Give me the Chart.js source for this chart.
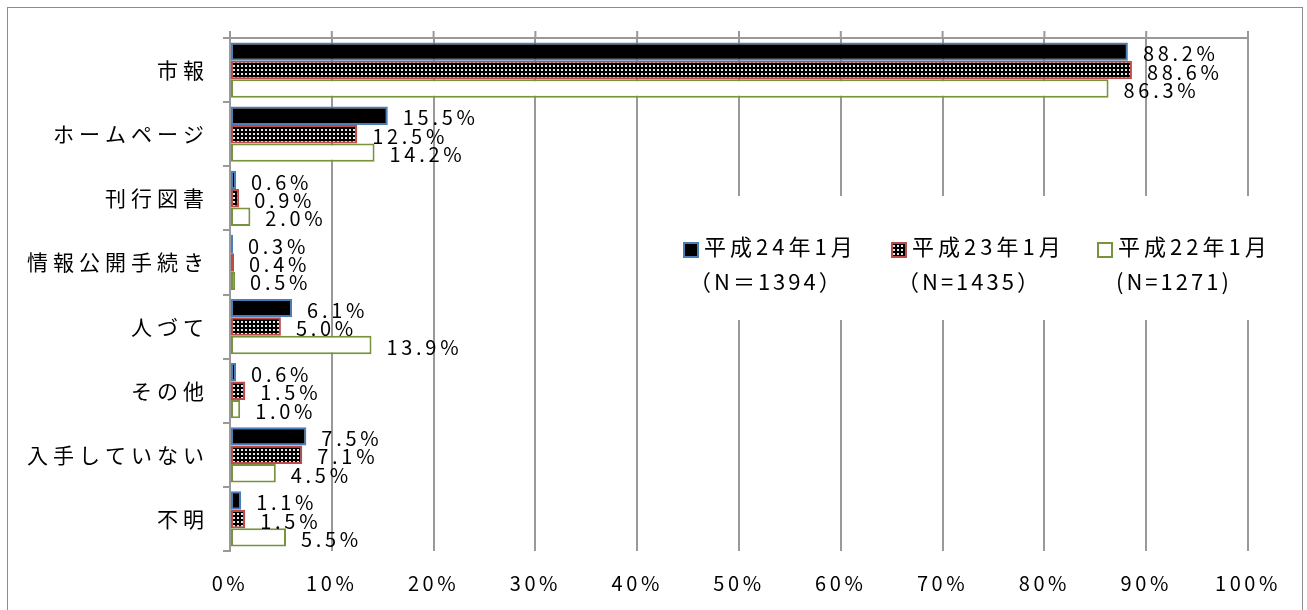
<!DOCTYPE html>
<html>
<head>
<meta charset="utf-8">
<script src="https://cdn.jsdelivr.net/npm/chart.js@4.4.1/dist/chart.umd.min.js"></script>
<style>
html, body { margin: 0; padding: 0; background: #fff; overflow: hidden; }
#wrap { position: relative; width: 1307px; height: 610px; }
#frame { position: absolute; left: 7px; top: 7px; width: 1296px; height: 620px; border: 1px solid #8c8c8c; box-sizing: border-box; pointer-events: none; }
canvas { position: absolute; left: 0; top: 0; }
</style>
</head>
<body>
<div id="wrap">
    <canvas id="chart" width="1307" height="610"></canvas>
    <div id="frame"></div>
</div>
<script>
const categories = ["市報", "ホームページ", "刊行図書", "情報公開手続き", "人づて", "その他", "入手していない", "不明"];
const h24 = [88.2, 15.5, 0.6, 0.3, 6.1, 0.6, 7.5, 1.1];
const h23 = [88.6, 12.5, 0.9, 0.4, 5.0, 1.5, 7.1, 1.5];
const h22 = [86.3, 14.2, 2.0, 0.5, 13.9, 1.0, 4.5, 5.5];
const seriesNames = ["平成24年1月", "平成23年1月", "平成22年1月"];
const seriesN = ["（N＝1394）", "（N=1435）", "(N=1271)"];

const FONT = '"Noto Sans CJK JP", "Noto Sans", sans-serif';

// black with white dots, like the excel fill
function dotPattern() {
    const c = document.createElement("canvas");
    c.width = 4;
    c.height = 4;
    const g = c.getContext("2d");
    g.fillStyle = "#000";
    g.fillRect(0, 0, 4, 4);
    g.fillStyle = "#e6e6e6";
    g.fillRect(1, 1, 2, 2);
    return g.createPattern(c, "repeat");
}

// text drawn so that its ink starts at x
function inkText(ctx, s, x, y) {
    const m = ctx.measureText(s);
    ctx.fillText(s, x + m.actualBoundingBoxLeft, y);
}

const spacingPlugin = {
    id: "spacing",
    beforeLayout(chart) { chart.ctx.letterSpacing = "3.6px"; },
    beforeDraw(chart) { chart.ctx.letterSpacing = "3.6px"; }
};

const extrasPlugin = {
    id: "extras",
    afterDatasetsDraw(chart) {
        const ctx = chart.ctx;
        const area = chart.chartArea;
        const x = chart.scales.x;
        const y = chart.scales.y;

        // top axis line with outward ticks
        ctx.save();
        ctx.strokeStyle = "#999";
        ctx.lineWidth = 2;
        ctx.beginPath();
        ctx.moveTo(area.left, area.top);
        ctx.lineTo(area.right, area.top);
        x.ticks.forEach(t => {
            const px = x.getPixelForValue(t.value);
            ctx.moveTo(px, area.top - 7);
            ctx.lineTo(px, area.top);
        });
        ctx.stroke();
        ctx.restore();

        // category labels
        ctx.save();
        ctx.font = "21px " + FONT;
        ctx.letterSpacing = "5px";
        ctx.fillStyle = "#000";
        ctx.textAlign = "right";
        ctx.textBaseline = "middle";
        categories.forEach((c, i) => {
            ctx.fillText(c, 209, y.getPixelForValue(i));
        });
        ctx.restore();

        // value labels
        ctx.save();
        ctx.font = "20px " + FONT;
        ctx.letterSpacing = "3.7px";
        ctx.fillStyle = "#000";
        ctx.textAlign = "left";
        ctx.textBaseline = "middle";
        chart.data.datasets.forEach((ds, i) => {
            chart.getDatasetMeta(i).data.forEach((bar, j) => {
                ctx.fillText(ds.data[j].toFixed(1) + "%", bar.x + 15, bar.y + 2);
            });
        });
        ctx.restore();
    },
    afterDraw(chart) {
        const ctx = chart.ctx;
        const lx = [684, 892, 1098];
        ctx.save();
        ctx.fillStyle = "#fff";
        ctx.fillRect(662, 196, 628, 124);
        ctx.font = "22px " + FONT;
        ctx.textAlign = "left";
        ctx.textBaseline = "middle";
        chart.data.datasets.forEach((ds, i) => {
            ctx.fillStyle = ds.backgroundColor;
            ctx.fillRect(lx[i], 243, 14, 14);
            ctx.strokeStyle = ds.borderColor;
            ctx.lineWidth = 2;
            ctx.strokeRect(lx[i], 243, 14, 14);
            ctx.fillStyle = "#000";
            ctx.letterSpacing = "4px";
            inkText(ctx, seriesNames[i], lx[i] + 21, 247);
            ctx.letterSpacing = "3px";
            inkText(ctx, seriesN[i], lx[i] + 20, 282);
        });
        ctx.restore();
    }
};

new Chart(document.getElementById("chart"), {
    type: "bar",
    data: {
        labels: categories,
        datasets: [
            { label: seriesNames[0], data: h24, backgroundColor: "#000", borderColor: "#4a7ebb", borderWidth: 2, borderSkipped: false },
            { label: seriesNames[1], data: h23, backgroundColor: dotPattern(), borderColor: "#be4b48", borderWidth: 2, borderSkipped: false },
            { label: seriesNames[2], data: h22, backgroundColor: "#fff", borderColor: "#77933c", borderWidth: 2, borderSkipped: false }
        ]
    },
    options: {
        indexAxis: "y",
        responsive: false,
        animation: false,
        barPercentage: 1,
        categoryPercentage: 0.86,
        layout: { padding: { top: 38, right: 59, left: 0, bottom: 0 } },
        scales: {
            x: {
                min: 0,
                max: 100,
                ticks: {
                    stepSize: 10,
                    callback: v => v + "%",
                    color: "#000",
                    font: { family: FONT, size: 20 },
                    padding: 20,
                    maxRotation: 0
                },
                grid: { color: "#999", lineWidth: 2, drawTicks: false },
                border: { display: false },
                afterFit: s => { s.height = 59; }
            },
            y: {
                ticks: { display: false },
                grid: { drawOnChartArea: false, offset: true, tickLength: 7, color: "#999", lineWidth: 2 },
                border: { color: "#999", width: 2 },
                afterFit: s => { s.width = 230; }
            }
        },
        plugins: {
            legend: { display: false },
            tooltip: { enabled: false }
        }
    },
    plugins: [spacingPlugin, extrasPlugin]
});
</script>
</body>
</html>
